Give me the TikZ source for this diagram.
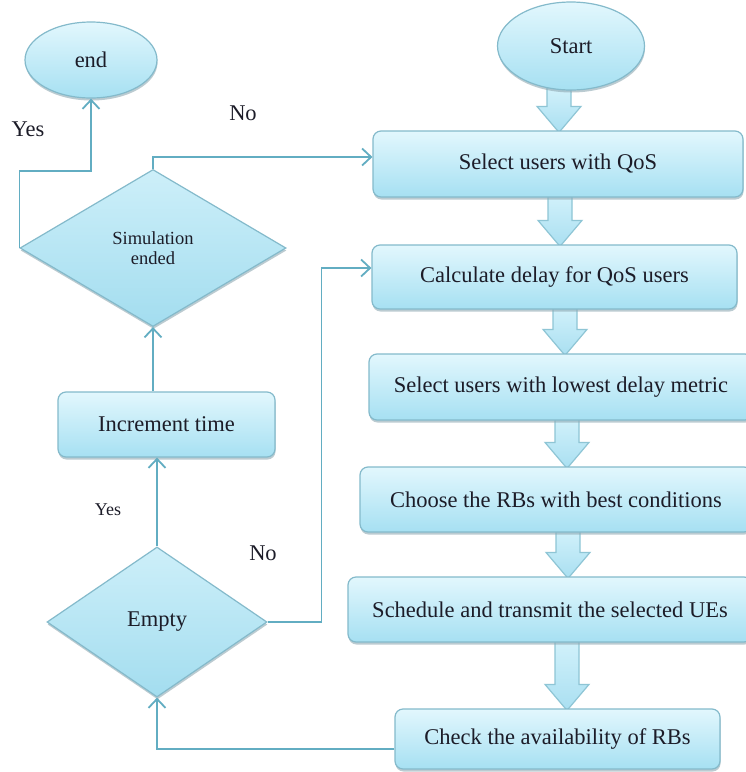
\documentclass[tikz,border=0pt]{standalone}
\usepackage{fontspec}
\setmainfont{Liberation Serif}
\usetikzlibrary{shapes.geometric,arrows.meta,calc,shadows}
\definecolor{boxtop}{HTML}{E2F7FD}
\definecolor{boxbot}{HTML}{A6E0F2}
\definecolor{boxborder}{HTML}{84BACB}
\definecolor{shadowc}{HTML}{8FA9B3}
\definecolor{dectop}{HTML}{CDEFF9}
\definecolor{decbot}{HTML}{A3DDEF}
\definecolor{connc}{HTML}{62ADC2}
\definecolor{batop}{HTML}{D3F2FB}
\definecolor{babot}{HTML}{A9DFF1}
\definecolor{baborder}{HTML}{8EC5D5}
\definecolor{txt}{HTML}{1C1C28}
\pgfdeclarelayer{bg}
\pgfsetlayers{bg,main}
\tikzset{
  mainfont/.style={font=\fontsize{22.5}{26}\selectfont, text=txt},
  box/.style={rectangle, rounded corners=8pt, draw=boxborder, line width=1.2pt,
    top color=boxtop, bottom color=boxbot, inner sep=0pt, mainfont,
    drop shadow={shadow xshift=0.5pt, shadow yshift=-2.5pt, fill=shadowc, opacity=0.6}},
  term/.style={ellipse, draw=boxborder, line width=1.2pt,
    top color=boxtop, bottom color=boxbot, inner sep=0pt, mainfont,
    drop shadow={shadow xshift=0.5pt, shadow yshift=-2.5pt, fill=shadowc, opacity=0.6}},
  dec/.style={diamond, draw=boxborder, line width=1.2pt,
    top color=dectop, bottom color=decbot, inner sep=0pt, mainfont,
    drop shadow={shadow xshift=0.5pt, shadow yshift=-2.5pt, fill=shadowc, opacity=0.6}},
  conn/.style={draw=connc, line width=1.8pt, -{Straight Barb[length=9pt,width=17pt]}},
  blockar/.style={draw=baborder, line width=1.2pt, top color=batop, bottom color=babot, line join=miter},
  lbl/.style={mainfont, inner sep=0pt}
}
% block arrow: #1 column coordinate, #2 source node, #3 target node
\newcommand\blockarrow[3]{%
  \draw[blockar]
    ($(#1|-#2.south)+(-12,-4)$) -- ($(#1|-#2.south)+(12,-4)$)
    -- ($(#1|-#3.north)+(12,-24)$) -- ($(#1|-#3.north)+(22,-24)$)
    -- ($(#1|-#3.north)+(0,2)$)
    -- ($(#1|-#3.north)+(-22,-24)$) -- ($(#1|-#3.north)+(-12,-24)$) -- cycle;}
\begin{document}
\begin{tikzpicture}[x=1pt,y=-1pt]
\clip (0,0) rectangle (746,772);
\begin{pgfonlayer}{bg}
\fill[white] (0,0) rectangle (746,772);
\end{pgfonlayer}

% right column
\node[term, minimum width=147, minimum height=88] (start) at (571,46) {Start};
\node[box, minimum width=370, minimum height=66] (sel) at (558,164) {Select users with QoS};
\node[box, minimum width=365, minimum height=64] (calc) at (554.5,277) {Calculate delay for QoS users};
\node[box, minimum width=384, minimum height=66] (low) at (561,387) {Select users with lowest delay metric};
\node[box, minimum width=392, minimum height=65] (choose) at (556,499.5) {Choose the RBs with best conditions};
\node[box, minimum width=404, minimum height=65] (sched) at (550,609.5) {Schedule and transmit the selected UEs};
\node[box, minimum width=325, minimum height=60] (check) at (557.5,739) {Check the availability of RBs};

% left column
\node[term, minimum width=132, minimum height=76] (end) at (91,60) {end};
\node[dec, minimum width=266, minimum height=157, align=center,
      font=\fontsize{18.5}{20}\selectfont] (sim) at (153,248) {Simulation\\ended};
\node[box, minimum width=217, minimum height=65] (inc) at (166.5,424.5) {Increment time};
\node[dec, minimum width=220, minimum height=150] (empty) at (157,622) {Empty};

% labels
\node[lbl] (yes1) at (28,129) {Yes};
\node[lbl] (no1) at (243,113) {No};
\node[lbl, font=\fontsize{18}{20}\selectfont] (yes2) at (108,510) {Yes};
\node[lbl] (no2) at (263,553) {No};

% block arrows
\coordinate (c1) at (559,0);
\coordinate (c2) at (560,0);
\coordinate (c3) at (565,0);
\coordinate (c4) at (567,0);
\coordinate (c5) at (568,0);
\coordinate (c6) at (567,0);
\begin{pgfonlayer}{bg}
\blockarrow{c1}{start}{sel}
\blockarrow{c2}{sel}{calc}
\blockarrow{c3}{calc}{low}
\blockarrow{c4}{low}{choose}
\blockarrow{c5}{choose}{sched}
\blockarrow{c6}{sched}{check}
\end{pgfonlayer}

% connectors
\draw[conn] (sim.west) -- ++(0,-77) -| (end.south);
\draw[conn] (sim.north) |- ([yshift=7pt]sel.west);
\draw[conn] (inc.north -| sim.south) -- (sim.south);
\draw[conn] (empty.north) -- (empty.north |- inc.south);
\draw[conn] (empty.east) -| ([xshift=-50pt,yshift=9pt]calc.west) -- ([yshift=9pt]calc.west);
\draw[conn] ([yshift=-10pt]check.west) -| (empty.south);
\end{tikzpicture}
\end{document}
